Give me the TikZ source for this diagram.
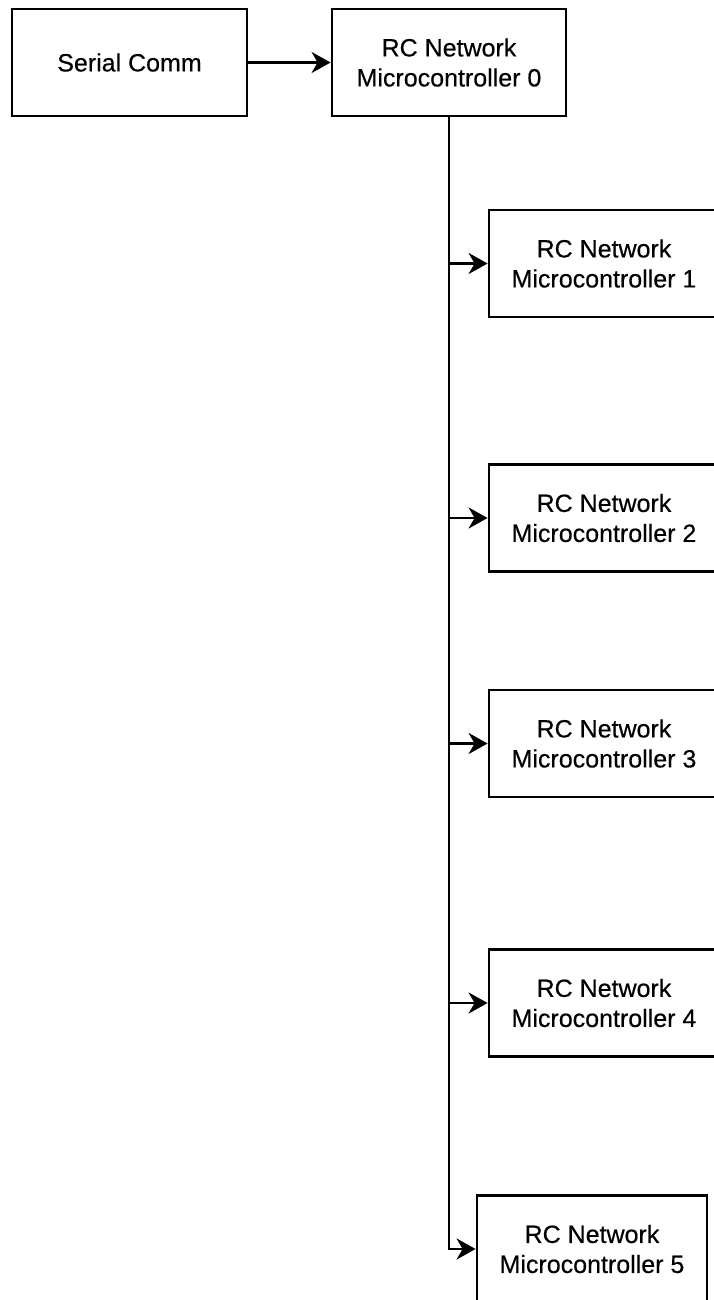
\documentclass[tikz,border=0pt]{standalone}
\usepackage{fontspec}
\setmainfont{Liberation Sans}
\newfontfamily\labelfont{Liberation Sans}[FakeBold=0.4]
\usetikzlibrary{arrows.meta}

\tikzset{
  block/.style={draw, line width=2.8pt, rectangle, minimum height=107pt,
                align=center, font=\labelfont\fontsize{25}{30}\selectfont, inner sep=0pt},
  wide/.style={block, minimum width=235pt},
  side/.style={block, minimum width=230pt},
  link/.style={line width=2.8pt, -{Stealth[length=19pt,width=21pt,inset=6pt]}},
}

\begin{document}
\begin{tikzpicture}[x=1pt,y=-1pt]
  \useasboundingbox (0,0) rectangle (714,1300);
  \clip (0,0) rectangle (714,1300);
  \fill[white] (0,0) rectangle (714,1300);

  % top row
  \node[wide] (ser) at (129.5,62.5) {Serial Comm};
  \node[wide, minimum width=234pt] (mc0) at (449,62.5) {RC Network\\Microcontroller 0};

  % branch column
  \node[side] (mc1) at (604,263.5) {RC Network\\Microcontroller 1};
  \node[side] (mc2) at (604,518)   {RC Network\\Microcontroller 2};
  \node[side] (mc3) at (604,743.5) {RC Network\\Microcontroller 3};
  \node[side] (mc4) at (604,1003)  {RC Network\\Microcontroller 4};
  \node[side] (mc5) at (592,1249)  {RC Network\\Microcontroller 5};

  % connectors
  \draw[link] (ser) -- (mc0);
  \draw[link] (mc0.south) |- (mc5.west);
  \foreach \n in {mc1,mc2,mc3,mc4}
    \draw[link] (mc0.south |- \n.west) -- (\n.west);
\end{tikzpicture}
\end{document}
